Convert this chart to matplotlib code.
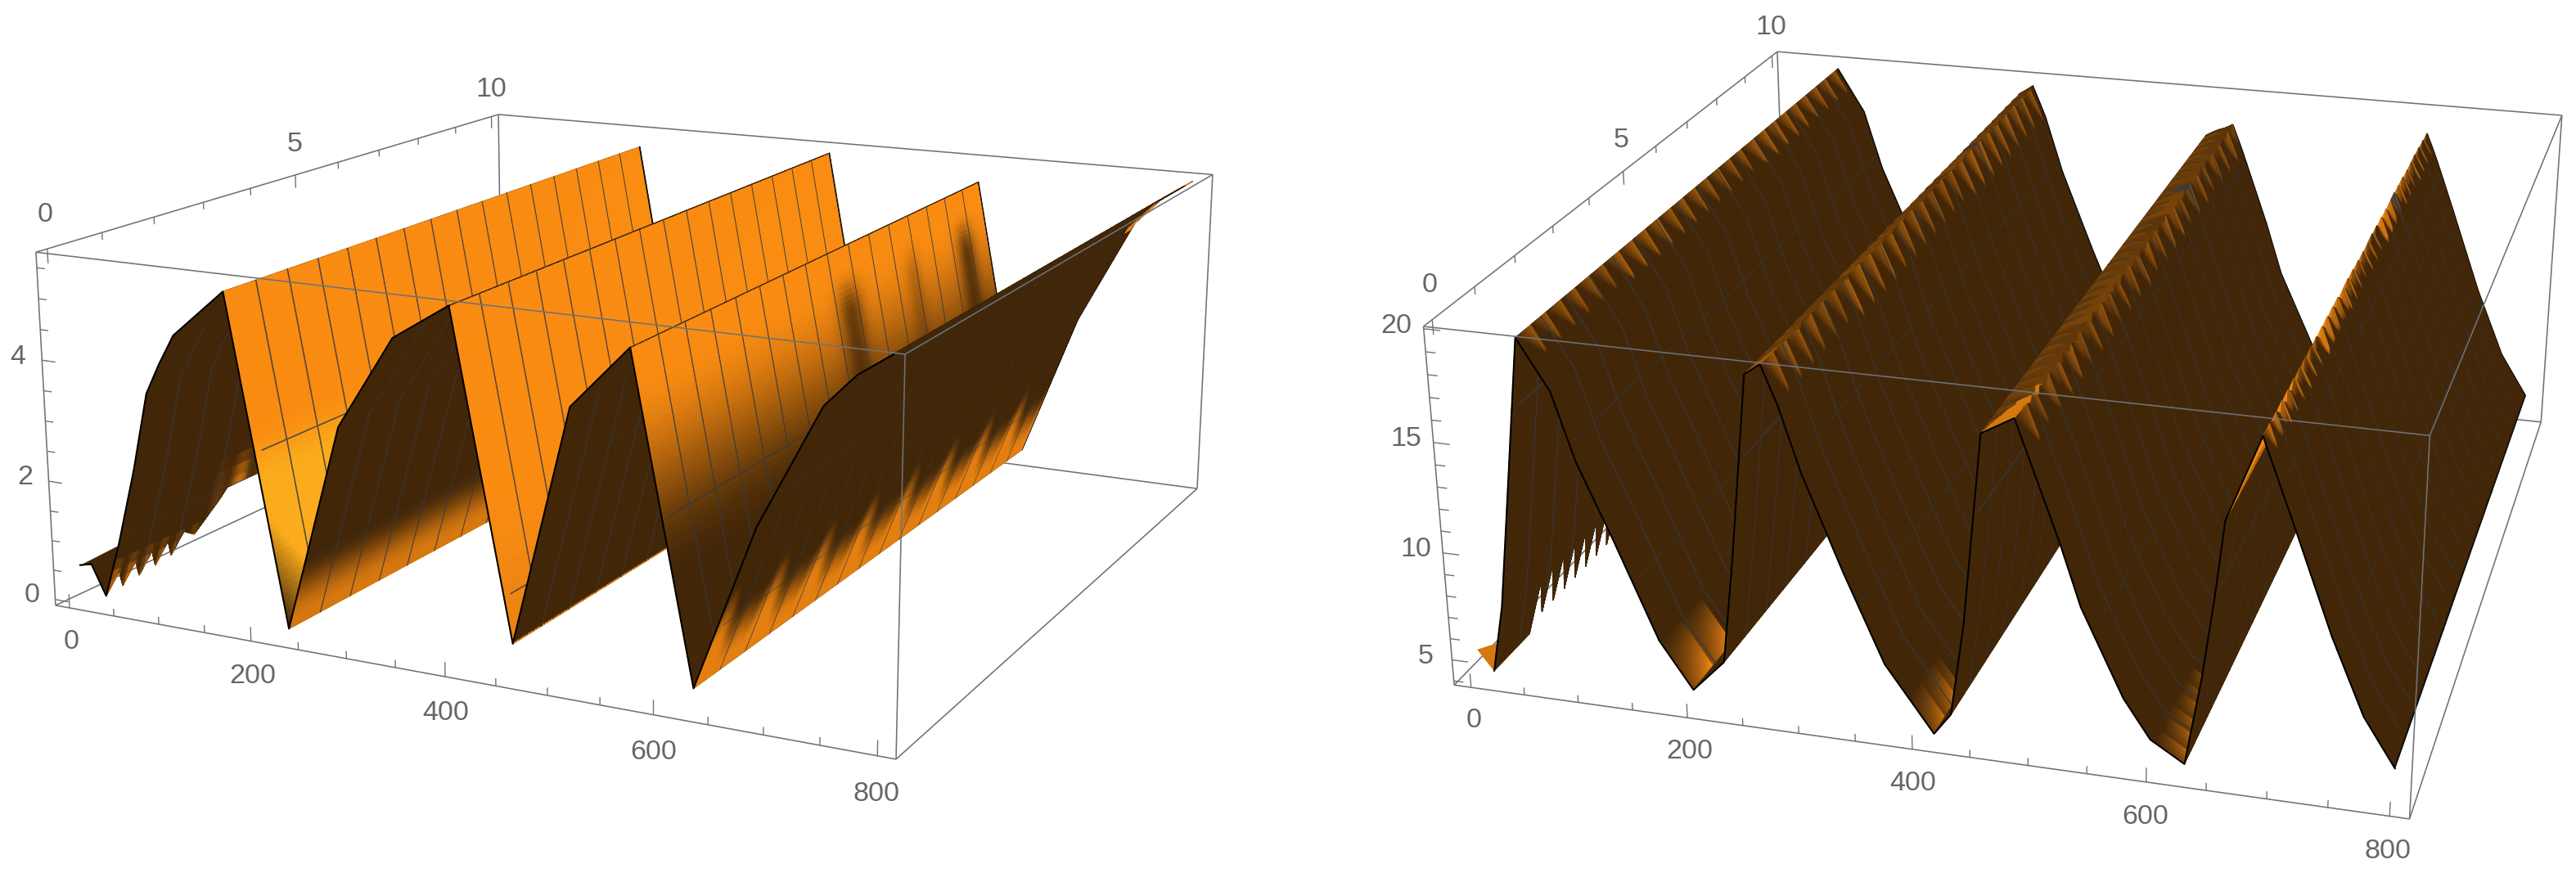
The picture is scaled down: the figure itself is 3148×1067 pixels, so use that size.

import numpy as np, matplotlib
matplotlib.use('Agg')
import matplotlib.pyplot as plt
from mpl_toolkits.mplot3d.art3d import Poly3DCollection

plt.rcParams['font.family'] = ['Liberation Sans', 'DejaVu Sans']

# ---------------- data ----------------
left_x = [2, 15, 30, 47, 68, 86, 101, 118, 173, 230, 288, 345, 401, 458, 515, 571, 629, 685, 742, 770, 800]
left_z = [.55, .6, .1, 1.0, 2.3, 3.6, 4.1, 4.6, 5.4, .1, 3.5, 5.0, 5.6, .5, 4.3, 5.3, .3, 2.9, 4.8, 5.3, 5.65]
right_x = [1, 15, 27, 43, 58, 86, 105, 135, 171, 200, 229, 241, 258, 272, 286, 304, 338, 372, 414, 429, 441, 457,
           485, 523, 540, 576, 599, 628, 641, 650, 657, 685, 715, 745, 773, 800]
right_z = [5.2, 4.3, 7.4, 13.7, 19.7, 17.5, 14.5, 11.1, 6.8, 4.7, 6.2, 11.1, 19.2, 19.7, 18, 15.2, 11, 7.1, 4.2, 5.2,
           9.4, 17.8, 18.6, 13.4, 10.8, 7, 5.3, 4.4, 8.4, 12, 15.3, 19, 15, 10.9, 7.6, 5.5]
# jagged low-x border of each surface
left_edge_y = [0, .15, .3, .45, .6, .75, .9, 1.05, 1.2, 1.35, 1.6, 2.1, 10]
left_edge_x = [30, 37, 31, 38, 32, 39, 33, 40, 34, 41, 38, 50, 52]
right_edge_y = [0, .45, .9, 1.05, 1.2, 1.35, 1.5, 1.65, 1.8, 1.95, 2.1, 2.25, 2.4, 2.55, 2.7, 2.85, 3.0, 3.15, 3.3,
                3.45, 3.6, 3.75, 3.9]
right_edge_x = [1, 8, 15, 24, 17, 25, 17, 25, 17, 25, 17, 25, 17, 25, 17, 25, 17, 25, 17, 25, 17, 25, 18]
x_ticks_major = [0, 200, 400, 600, 800]
y_ticks_major = [0, 5, 10]
left_z_major = [0, 2, 4]
right_z_major = [5, 10, 15, 20]

X_LIM = (-16, 816)
Y_LIM = (-.2, 10.2)
LEFT_Z = (-.1, 5.75)
RIGHT_Z = (3.8, 20.1)
LEFT_PX = [(68, 740), (44, 308), (609, 140), (1095, 928), (1106, 433), (1482, 213.5), (1463, 597)]
RIGHT_PX = [(1777, 837), (1739.5, 399.5), (2172, 63), (2945, 1001), (2969, 532), (3131, 141), (3105, 516)]
LEFT_FINE = [(173, 262), (571, 690)]
RIGHT_FINE = [(172, 200), (392, 414), (602, 628), (58, 73), (258, 287), (457, 497), (657, 693)]

DARK = np.array([66, 38, 8]) / 255
ORANGE = np.array([250, 140, 18]) / 255
GOLD = np.array([250, 172, 28]) / 255
MESH = np.array([50, 58, 66]) / 255
BOX = '#6f7276'
LABEL = '#666666'
XS = .12
W, H = 3148, 1067


def sm(a):
    a = np.clip(a, 0, 1)
    return a * a * (3 - 2 * a)


def camera(zlim, px):
    x0, x1 = X_LIM; y0, y1 = Y_LIM; z0, z1 = zlim
    cs = [(x0, y0, z0), (x0, y0, z1), (x0, y1, z1), (x1, y0, z0), (x1, y0, z1), (x1, y1, z1), (x1, y1, z0)]
    A = []
    for (X, Y, Z), (u, v) in zip(cs, px):
        A.append([X, Y, Z, 1, 0, 0, 0, 0, -u * X, -u * Y, -u * Z, -u])
        A.append([0, 0, 0, 0, X, Y, Z, 1, -v * X, -v * Y, -v * Z, -v])
    P = np.linalg.svd(np.array(A, float))[2][-1].reshape(3, 4)
    if P[2] @ np.array([x0, y0, z0, 1]) < 0:
        P = -P
    return np.vstack([P[0], P[1], [0, 0, 0, -1], P[2]])


def grid(edge_y, edge_x, xp, zp, fine):
    xs = np.unique(np.round(np.concatenate([np.arange(0, 800.1, 3.5), xp, [799.0],
                                            *[np.arange(a, b, 1.0) for a, b in fine],
                                            *[[k * 50 - XS, k * 50 + XS] for k in range(1, 16)]]), 3))
    ys = np.unique(np.round(np.concatenate([np.arange(0, 10.01, .0625), edge_y, [9.955],
                                            *[[k * .625 - .013, k * .625 + .013] for k in range(1, 16)]]), 4))
    Xg, Yg = np.meshgrid(xs, ys)
    Xg = np.maximum(Xg, np.interp(Yg, edge_y, edge_x))
    Zg = np.interp(Xg, xp, zp)
    return Xg, Yg, Zg


def centers(A):
    return (A[:-1, :-1] + A[1:, :-1] + A[:-1, 1:] + A[1:, 1:]) / 4


def finish_colors(t, bright, xc, yc, black_right):
    col = DARK + (bright - DARK) * t[..., None]
    mesh = (np.abs((xc / 50 + .5) % 1 - .5) * 50 < XS) | (np.abs((yc / .625 + .5) % 1 - .5) * .625 < .013)
    mesh &= (xc > 10) & (xc < 795) & (yc > .1) & (yc < 9.9)
    col[mesh] = col[mesh] * .18 + MESH * .82
    black = yc > 9.955
    if black_right:
        black |= xc > 799
    col[black] = 0.05
    return np.dstack([col, np.ones(t.shape)])


def left_colors(Xg, Yg, Zg):
    x, y, z = centers(Xg), centers(Yg), centers(Zg)
    t = np.zeros(x.shape)
    bright = np.broadcast_to(ORANGE, x.shape + (3,)).copy()
    tau = 2 * np.pi
    a = x < 173
    t[a] = np.where(y[a] < 1.7,
                    .7 * sm((.85 - z[a]) / .6) * (.5 + .5 * np.sin(tau * y[a] / .3)),
                    .72 * sm((1.95 - z[a]) / .8) * (.55 + .45 * np.sin(tau * y[a] / .55)) * sm((y[a] - 1.7) / .5))
    b = (x >= 173) & (x < 230)
    t[b] = np.clip((z[b] - .1) / 1.8 + y[b] / 1.1, 0, 1)
    bright[b] = GOLD + (ORANGE - GOLD) * sm((z[b] - 2.4) / .9)[..., None]
    c = (x >= 230) & (x < 401)
    t[c] = .8 * sm((1.35 - z[c]) / 1.1)
    d = (x >= 401) & (x < 458)
    t[d] = .9 + .1 * sm(z[d] / 3)
    f = (x >= 571) & (x < 629)
    streak = (1 - .75 * np.exp(-((y[f] - 5.4) / .35) ** 2) - .3 * np.exp(-((y[f] - 7.4) / .25) ** 2)
              - .8 * np.exp(-((y[f] - 9.2) / .3) ** 2))
    streak = streak + (1 - streak) * sm((z[f] - 4.2) / .8)
    t[f] = sm((z[f] - 1.9) / 3.0) * streak
    g = x >= 629
    zb = 1.7 + .22 * np.sin(tau * y[g] / 1.25 + 1) + .12 * np.sin(tau * y[g] / .625)
    t[g] = .88 * sm((zb - z[g]) / 1.1)
    t[(x > 740) & (y > 9.7)] = .9
    return finish_colors(t, bright, x, y, False)


def right_colors(Xg, Yg, Zg):
    x, y, z = centers(Xg), centers(Yg), centers(Zg)
    t = np.zeros(x.shape)
    bright = np.broadcast_to(ORANGE, x.shape + (3,)).copy()
    for xr, amp, L, p in ((58, .5, 15, .38), (272, .5, 15, .38), (485, .45, 12, .42), (685, .8, 8, .33)):
        d = x - xr
        u = (y / p) % 1
        on = (d >= 0) & (d < L)
        t[on] = np.maximum(t[on], amp * np.clip(u[on] - d[on] / L, 0, 1) / np.maximum(1 - d[on] / L, .2))
    # plateaus just left of the later crests
    for xl, xr, amp, front, ly in ((258, 272, .3, .5, .5), (457, 485, .3, .8, 1.0), (657, 685, .95, .95, 1.6)):
        on = (x >= xl) & (x < xr)
        t[on] = np.maximum(t[on], amp * (.45 + .55 * ((y[on] / .33) % 1)))
        wedge = on & ((x - xl) / (xr - xl) > y / ly)
        t[wedge] = np.maximum(t[wedge], front)
    # lit stripes in the valley floors near the front
    for xv, L, ly, amp, p in ((200, 28, 1.15, 1.0, .55), (414, 22, 1.0, .8, .4), (628, 26, 1.7, .8, .28)):
        on = (x < xv) & (x > xv - L) & (y < ly)
        t[on] = np.maximum(t[on], amp * (1 - (xv - x[on]) / L) * (.35 + .65 * ((y[on] / p) % 1)))
    t[x < 16] = .8
    return finish_colors(t, bright, x, y, True)


def draw_panel(fig, zlim, px, xp, zp, edge_y, edge_x, fine, colorer, zmajor, zminor_step, xlab_dz, ylab_dz, zlab_dx,
               corner):
    M = camera(zlim, px)
    ax = fig.add_axes([0, 0, 1, 1], projection='3d', proj_type='ortho', computed_zorder=False)
    ax.get_proj = lambda: M
    ax.apply_aspect = lambda position=None: None
    ax.set_axis_off()
    ax.patch.set_visible(False)
    x0, x1 = X_LIM; y0, y1 = Y_LIM; z0, z1 = zlim
    zspan = z1 - z0

    def seg(a, b, zo, color=BOX, lw=1.15):
        ax.plot([a[0], b[0]], [a[1], b[1]], [a[2], b[2]], color=color, lw=lw, zorder=zo, solid_capstyle='butt')

    def label(xv, yv, zv, s):
        p = M @ np.array([xv, yv, zv, 1.0])
        fig.text(p[0] / p[3] / W, 1 - p[1] / p[3] / H, s, color=LABEL, fontsize=24.5, ha='center', va='center',
                 zorder=6)

    for a, b in (((x0, y1, z0), (x0, y1, z1)), ((x0, y1, z0), (x1, y1, z0)), ((x0, y0, z0), (x0, y1, z0)),
                 ((x1, y0, z0), (x1, y1, z0)), ((x0, y1, z1), (x1, y1, z1))):
        seg(a, b, 1)

    Xg, Yg, Zg = grid(np.array(edge_y, float), np.array(edge_x, float), np.array(xp, float), np.array(zp, float), fine)
    if corner is None:
        for xr, a in ((272, .2), (485, .45), (685, .6)):
            Zg = Zg - a * ((Yg / .3) % 1) * sm(Yg / 1.0) * np.exp(-((Xg - xr + 3) / 9) ** 2)
    ax.plot_surface(Xg, Yg, Zg, facecolors=colorer(Xg, Yg, Zg), rstride=1, cstride=1, shade=False,
                    linewidth=.7, antialiased=True, zorder=2)
    if corner is not None:
        ax.add_collection3d(Poly3DCollection([[(xp[i], 0, zp[i]) for i in corner]], facecolors=DARK,
                                             edgecolors=DARK, linewidth=.5, zorder=3))
        start = 0
    else:
        start = 1
    ax.plot(xp[start:], np.zeros(len(xp) - start), zp[start:], color='black', lw=1.5, zorder=4)

    for a, b in (((x0, y0, z0), (x0, y0, z1)), ((x0, y0, z0), (x1, y0, z0)), ((x0, y0, z1), (x1, y0, z1)),
                 ((x1, y0, z0), (x1, y0, z1)), ((x0, y0, z1), (x0, y1, z1)), ((x1, y0, z1), (x1, y1, z1)),
                 ((x1, y1, z0), (x1, y1, z1))):
        seg(a, b, 5)

    for v in np.arange(0, 801, 50):
        L = .04 if v in x_ticks_major else .021
        seg((v, y0, z0), (v, y0, z0 + L * zspan), 5, lw=1.0)
    for v in np.arange(0, 11):
        L = .04 if v in y_ticks_major else .021
        seg((x0, v, z1), (x0, v, z1 - L * zspan), 5, lw=1.0)
    for v in np.arange(np.ceil(z0 / zminor_step) * zminor_step, z1, zminor_step):
        L = 15 if v in zmajor else 9
        seg((x0, y0, v), (x0 + L, y0, v), 5, lw=1.0)

    for v in x_ticks_major:
        label(v, y0, z0 - xlab_dz, str(v))
    for v in y_ticks_major:
        label(x0, v, z1 + ylab_dz, str(v))
    for v in zmajor:
        label(x0 - zlab_dx, y0, v, str(v))
    ax.viewLim.intervalx = (0, W)
    ax.viewLim.intervaly = (H, 0)
    return ax


fig = plt.figure(figsize=(W / 100, H / 100), dpi=100, facecolor='white')
draw_panel(fig, LEFT_Z, LEFT_PX, left_x, left_z, left_edge_y, left_edge_x, LEFT_FINE, left_colors,
           left_z_major, .5, .58, .55, 27, [0, 1, 2, 3])
draw_panel(fig, RIGHT_Z, RIGHT_PX, right_x, right_z, right_edge_y, right_edge_x, RIGHT_FINE, right_colors,
           right_z_major, 1, 1.6, 1.5, 25, None)
fig.savefig('out.png', dpi=100)
